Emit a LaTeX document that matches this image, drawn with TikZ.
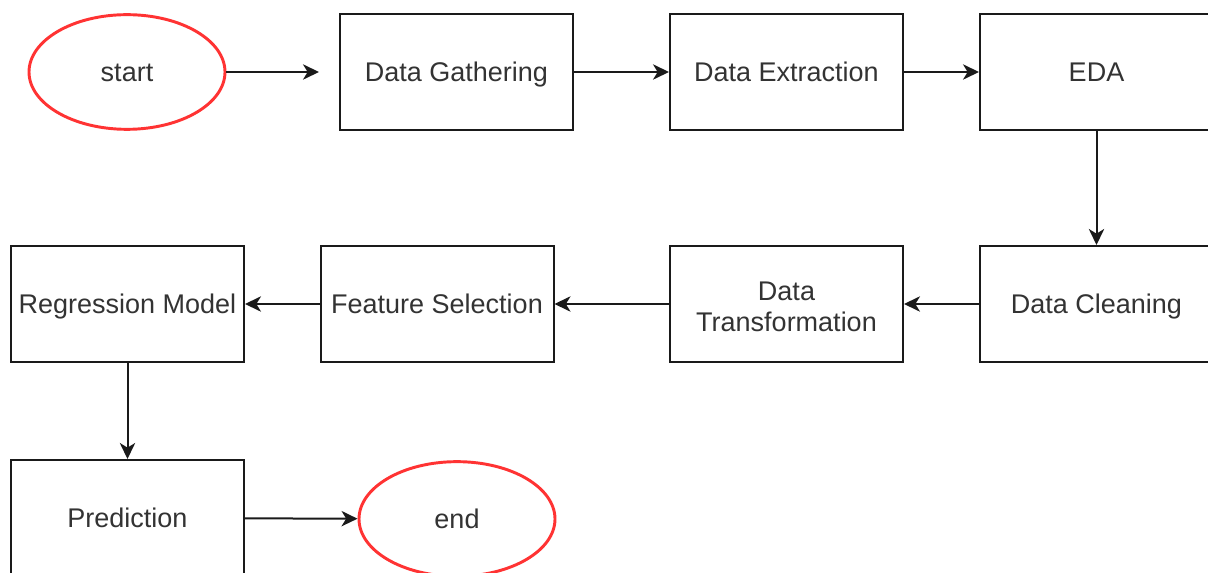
\documentclass[tikz,border=0pt]{standalone}
\usepackage{fontspec}
\setmainfont{Liberation Sans}
\usetikzlibrary{arrows.meta, shapes.geometric}
\definecolor{termred}{HTML}{FF3333}
\definecolor{ink}{HTML}{1A1A1A}
\definecolor{txtgray}{HTML}{333333}

\tikzset{
  stage/.style={draw=ink, line width=1.5pt, rectangle, minimum width=174.75pt,
    minimum height=87pt, inner sep=0pt, text=txtgray, align=center,
    text height=15pt, text depth=0pt,
    font=\fontsize{20.25}{23.5}\selectfont},
  terminal/.style={draw=termred, line width=2.2pt, ellipse, minimum width=147pt,
    minimum height=86pt, inner sep=0pt, text=txtgray,
    text height=15pt, text depth=0pt,
    font=\fontsize{20.25}{23.5}\selectfont},
  flow/.style={draw=ink, line width=1.5pt, -{Stealth[length=12pt, width=11.5pt, inset=3.5pt]}}
}

\begin{document}
\begin{tikzpicture}[x=0.75pt, y=-0.75pt]

% Canvas (px coordinates, y downwards)
\useasboundingbox (0,0) rectangle (1208,573);
\fill[white] (0,0) rectangle (1208,573);
\clip (0,0) rectangle (1208,573);

% Top row
\node[terminal] (start) at (127,72) {start};
\node[stage] (gather) at (456.5,72) {Data Gathering};
\node[stage] (extract) at (786.5,72) {Data Extraction};
\node[stage] (eda) at (1096.5,72) {EDA};

% Middle row (right to left)
\node[stage] (clean) at (1096.5,304) {Data Cleaning};
\node[stage, text height=, text depth=] (transform) at (786.5,304)
  {\raisebox{0pt}[\dimexpr\height+9pt\relax][\depth]{%
    \begin{tabular}{@{}c@{}}Data\\Transformation\end{tabular}}};
\node[stage] (select) at (437,304) {Feature Selection};
\node[stage] (regress) at (127.5,304) {Regression Model};

% Bottom row
\node[stage] (predict) at (127.5,518) {Prediction};
\node[terminal] (end) at (457,519) {end};

% Connectors
\draw[flow, shorten >=15pt] (start) -- (gather);
\draw[flow] (gather) -- (extract);
\draw[flow] (extract) -- (eda);
\draw[flow] (eda) -- (clean);
\draw[flow] (clean) -- (transform);
\draw[flow] (transform) -- (select);
\draw[flow] (select) -- (regress);
\draw[flow] (regress) -- (predict);
\draw[flow] (predict) -- (end);

\end{tikzpicture}
\end{document}
